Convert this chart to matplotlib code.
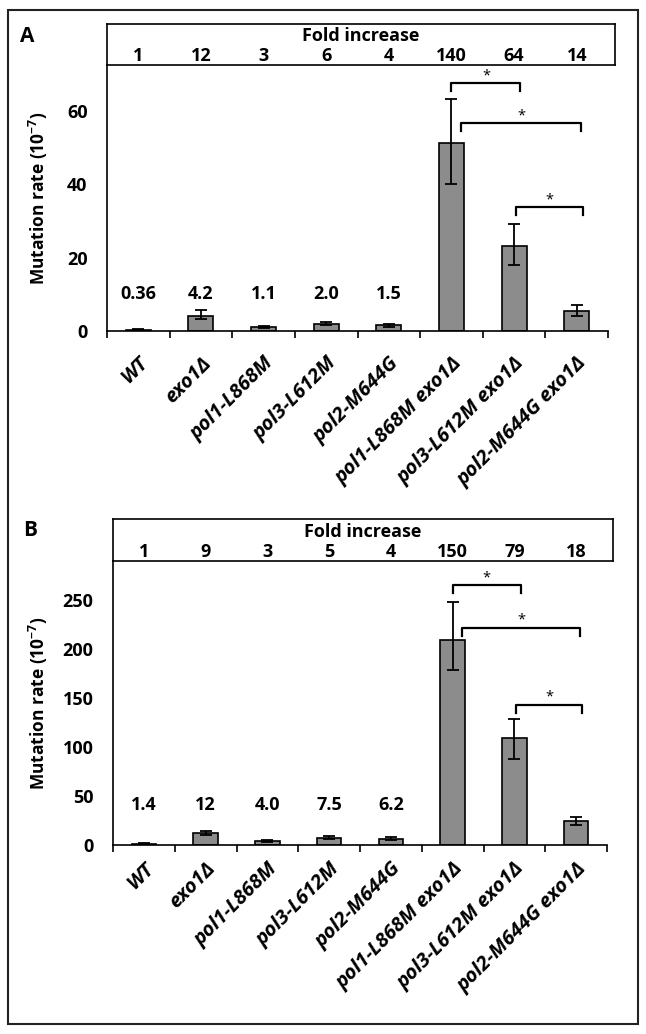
import matplotlib
matplotlib.use("Agg")
import matplotlib.pyplot as plt
from matplotlib.patches import Rectangle

plt.rcParams['font.family'] = ['Open Sans', 'DejaVu Sans']
plt.rcParams['font.weight'] = 'bold'
plt.rcParams['axes.labelweight'] = 'bold'
plt.rcParams['mathtext.fontset'] = 'custom'
plt.rcParams['mathtext.rm'] = 'Open Sans'
plt.rcParams['mathtext.it'] = 'Open Sans:italic'

strains = ["WT", "exo1Δ", "pol1-L868M", "pol3-L612M", "pol2-M644G",
           "pol1-L868M exo1Δ", "pol3-L612M exo1Δ", "pol2-M644G exo1Δ"]

# panel A
rate_a = [0.36, 4.2, 1.1, 2.0, 1.5, 51.2, 23.1, 5.4]
err_lo_a = [0.05, 0.8, 0.2, 0.5, 0.35, 11.0, 5.0, 1.3]
err_hi_a = [0.05, 1.4, 0.2, 0.5, 0.35, 12.0, 6.0, 1.7]
fold_a = ["1", "12", "3", "6", "4", "140", "64", "14"]
shown_a = ["0.36", "4.2", "1.1", "2.0", "1.5"]
bracket_h_a = [67.5, 56.6, 33.7]

# panel B
rate_b = [1.4, 12, 4.0, 7.5, 6.2, 209, 109, 24.5]
err_lo_b = [0.3, 2.0, 0.8, 1.5, 1.5, 30, 21, 4.2]
err_hi_b = [0.3, 2.2, 0.8, 1.5, 1.5, 39, 20, 4.0]
fold_b = ["1", "9", "3", "5", "4", "150", "79", "18"]
shown_b = ["1.4", "12", "4.0", "7.5", "6.2"]
bracket_h_b = [265, 221.5, 143]

# significance comparisons (bar index pairs)
pairs = [(5, 6), (5, 7), (6, 7)]
pair_shift = [(0.0, 0.1), (0.15, 0.07), (0.03, 0.1)]

W, H = 646, 1034
fig = plt.figure(figsize=(W / 100, H / 100), dpi=100)


def px_axes(x0, y0, x1, y1):
    return fig.add_axes([x0 / W, 1 - y1 / H, (x1 - x0) / W, (y1 - y0) / H])


def draw_panel(box_px, ax_px, rates, lo, hi, folds, shown, ymax, yticks,
               bracket_h, leg, letter, letter_xy, ylab_x, xpad):
    ax = px_axes(*ax_px)
    box = px_axes(*box_px)
    n = len(rates)
    x = list(range(n))

    ax.bar(x, rates, width=0.4, color='#8c8c8c', edgecolor='black', linewidth=1.2,
           yerr=[lo, hi], capsize=4,
           error_kw=dict(elinewidth=1.3, capthick=1.3, ecolor='black'))
    ax.set_xlim(-0.5, n - 0.5)
    ax.set_ylim(0, ymax)
    ax.set_yticks(yticks)
    ax.tick_params(axis='y', length=0, pad=14, labelsize=13)
    ax.set_xticks(x)
    ax.set_xticklabels(strains, rotation=45, ha='right', rotation_mode='anchor',
                       fontstyle='italic', fontsize=14.5)
    ax.tick_params(axis='x', which='major', length=0, pad=xpad)
    ax.set_xticks([i - 0.5 for i in range(n + 1)], minor=True)
    ax.tick_params(axis='x', which='minor', length=5, width=1.2, direction='out')
    for s in ['top', 'right']:
        ax.spines[s].set_visible(False)
    for s in ['left', 'bottom']:
        ax.spines[s].set_linewidth(1.2)
    ax.set_ylabel('Mutation rate (10$^{-7}$)', fontsize=12.5)
    ax.yaxis.set_label_coords(ylab_x, 0.5)

    for i, t in enumerate(shown):
        ax.text(i, 0.14 * ymax, t, ha='center', va='center', fontsize=13)

    for (a, b), (da, db), h in zip(pairs, pair_shift, bracket_h):
        xa, xb = a + da, b + db
        ax.plot([xa, xa, xb, xb], [h - leg, h, h, h - leg], color='black',
                lw=1.6, clip_on=False)
        ax.annotate('*', ((xa + xb) / 2, h), xytext=(0, 3), textcoords='offset points',
                    ha='center', va='baseline', fontsize=10.5, fontweight='normal',
                    annotation_clip=False)

    # fold increase box
    ax_w = ax_px[2] - ax_px[0]
    box_w = box_px[2] - box_px[0]
    box.set_xlim(-0.5, -0.5 + n * box_w / ax_w)
    box.set_ylim(0, 1)
    box.set_xticks([])
    box.set_yticks([])
    for s in box.spines.values():
        s.set_linewidth(1.2)
    box.text(0.5, 0.7, 'Fold increase', transform=box.transAxes, ha='center',
             va='center', fontsize=13)
    for i, f in enumerate(folds):
        box.text(i, 0.22, f, ha='center', va='center', fontsize=13)

    fig.text(letter_xy[0] / W, 1 - letter_xy[1] / H, letter, ha='center', va='center',
             fontsize=15)
    return ax


draw_panel((107, 24, 615, 65), (107, 65, 608, 331), rate_a, err_lo_a, err_hi_a,
           fold_a, shown_a, 72.5, [0, 20, 40, 60], bracket_h_a, 2.2,
           'A', (27, 36), -0.114, 16)
draw_panel((113, 519, 613, 561), (113, 561, 607, 845), rate_b, err_lo_b, err_hi_b,
           fold_b, shown_b, 290, [0, 50, 100, 150, 200, 250], bracket_h_b, 8,
           'B', (30, 531), -0.1275, 10)

fig.add_artist(Rectangle((8 / W, 1 - 1024 / H), 630 / W, 1014 / H,
                         transform=fig.transFigure, fill=False, lw=1.5,
                         edgecolor='#222222'))

fig.savefig('out.png', dpi=100)
